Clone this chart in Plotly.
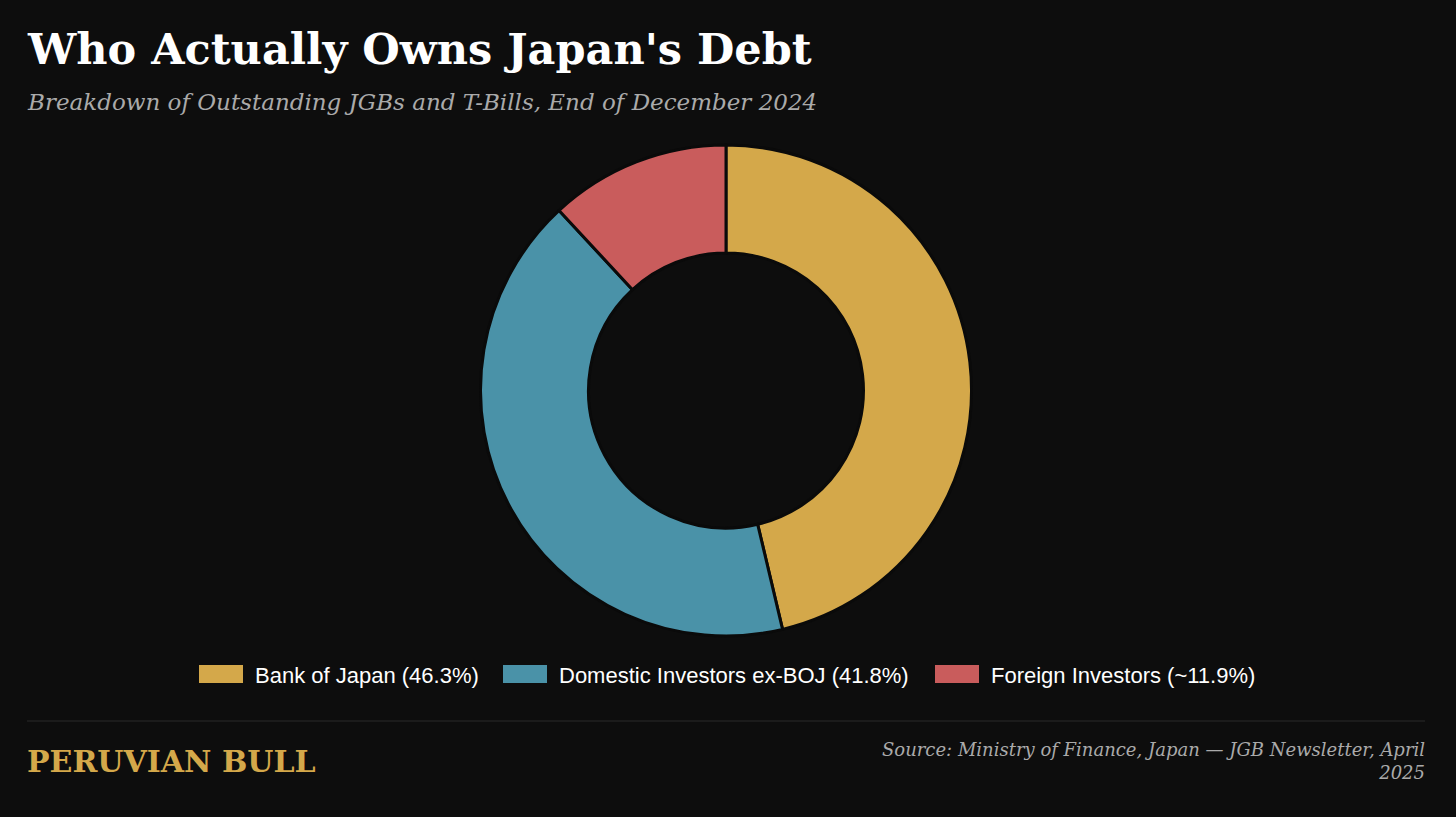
import plotly.graph_objects as go

# data
holders = ['Bank of Japan', 'Domestic Investors ex-BOJ', 'Foreign Investors']
shares = [46.3, 41.8, 11.9]
legend_labels = ['Bank of Japan (46.3%)', 'Domestic Investors ex-BOJ (41.8%)', 'Foreign Investors (~11.9%)']
colors = ['#D4A84A', '#4A92A8', '#C95C5C']

W, H = 1456, 817
BG = '#0d0d0d'


def px(x):
    return x / W


def py(y):
    return 1 - y / H


fig = go.Figure(go.Pie(
    labels=holders,
    values=shares,
    sort=False,
    direction='clockwise',
    rotation=0,
    hole=0.56,
    marker=dict(colors=colors, line=dict(color='#0a0a0a', width=3)),
    textinfo='none',
    hoverinfo='label+percent',
    showlegend=False,
    domain=dict(x=[0, px(1452)], y=[py(636), py(145)]),
))

annotations = [
    dict(text="<b>Who Actually Owns Japan's Debt</b>", x=px(25), y=py(49),
         xanchor='left', yanchor='middle', showarrow=False,
         font=dict(family='DejaVu Serif', size=43, color='#ffffff')),
    dict(text='<i>Breakdown of Outstanding JGBs and T-Bills, End of December 2024</i>',
         x=px(25), y=py(102), xanchor='left', yanchor='middle', showarrow=False,
         font=dict(family='DejaVu Serif', size=23, color='#aaaaaa')),
    dict(text='<b>PERUVIAN BULL</b>', x=px(25), y=py(761), xanchor='left',
         yanchor='middle', showarrow=False,
         font=dict(family='DejaVu Serif', size=30, color='#D4A84A')),
    dict(text='<i>Source: Ministry of Finance, Japan — JGB Newsletter, April<br>2025</i>',
         x=px(1427), y=py(761), xanchor='right', yanchor='middle', align='right',
         showarrow=False,
         font=dict(family='DejaVu Serif', size=18, color='#aaaaaa')),
]

shapes = [
    dict(type='line', xref='paper', yref='paper', x0=px(27), x1=px(1425),
         y0=py(721), y1=py(721), line=dict(color='#2a2a2a', width=1)),
]

# custom legend with wide swatches
swatch_x = [199, 503, 935]
for lab, col, sx in zip(legend_labels, colors, swatch_x):
    shapes.append(dict(type='rect', xref='paper', yref='paper',
                       x0=px(sx), x1=px(sx + 44), y0=py(683), y1=py(665),
                       fillcolor=col, line=dict(color=col, width=0)))
    annotations.append(dict(text=lab, x=px(sx + 54), y=py(675), xanchor='left',
                            yanchor='middle', showarrow=False,
                            font=dict(family='Liberation Sans', size=22, color='#ffffff')))

fig.update_layout(
    width=W, height=H,
    paper_bgcolor=BG, plot_bgcolor=BG,
    margin=dict(l=0, r=0, t=0, b=0),
    annotations=annotations,
    shapes=shapes,
    showlegend=False,
)

fig.write_html('out.html', config={'displayModeBar': False},
               post_script="document.body.style.margin='0';document.body.style.background='#0d0d0d';")
